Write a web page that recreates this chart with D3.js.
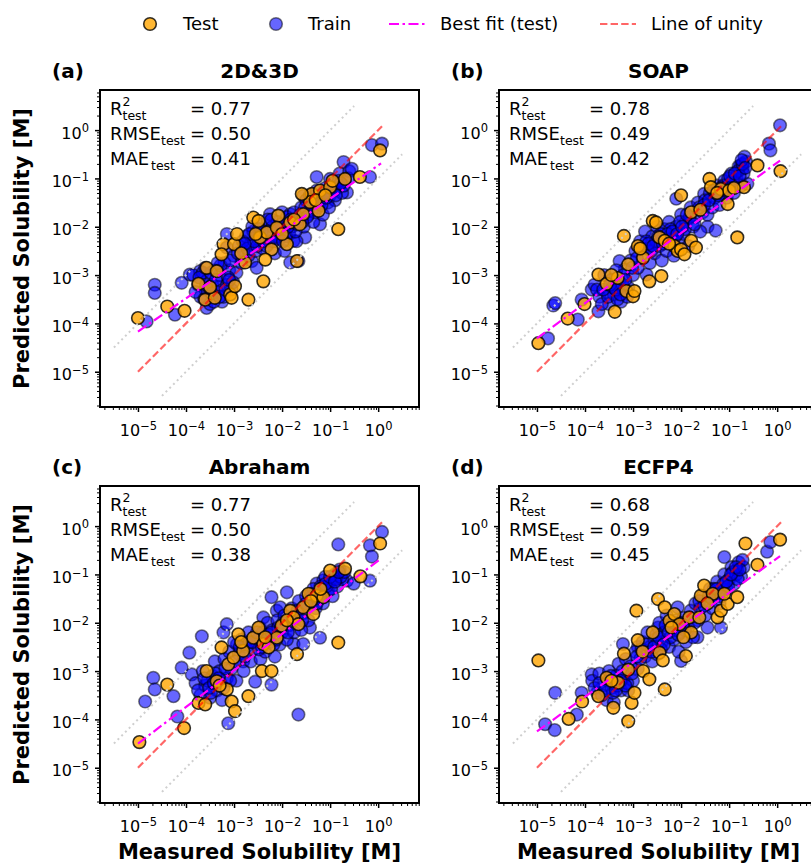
<!DOCTYPE html>
<html>
<head>
<meta charset="utf-8">
<script src="https://cdn.jsdelivr.net/npm/d3@7"></script>
<style>
  body { margin: 0; background: #fff; }
  text { font-family: "DejaVu Sans", sans-serif; fill: #000; }
</style>
</head>
<body>
<svg id="chart" width="811" height="864"></svg>
<script>
// Panel labels and metrics
const panelNames = ['2D&3D', 'SOAP', 'Abraham', 'ECFP4'];
const panelTags = ['(a)', '(b)', '(c)', '(d)'];
const r2Values = ['0.77', '0.78', '0.77', '0.68'];
const rmseValues = ['0.50', '0.49', '0.50', '0.59'];
const maeValues = ['0.41', '0.42', '0.38', '0.45'];

// tick exponents (log10 of solubility)
const tickExps = [-5, -4, -3, -2, -1, 0];

// best fit (test) lines: [log x0, log y0, log x1, log y1]
const fitLines = [
    [-5, -4.17, 0.06, -0.69],
    [-5, -4.31, 0.06, -0.63],
    [-5, -4.50, 0.06, -0.67],
    [-5, -4.25, 0.06, -0.62]
];
const unityRange = [-5, 0.08];
const upperBand = [-5.5, -0.5];   // y = 10x
const lowerBand = [-4.5, 0.5];    // y = x/10

// points, as [log10 measured, log10 predicted]
const testA = [[-5.0,-3.89],[-4.39,-3.65],[-4.03,-3.74],[-3.74,-3.18],[-3.6,-3.51],[-3.4,-3.47],[-3.57,-2.85],[-3.36,-2.92],[-3.22,-2.36],[-3.0,-2.36],[-2.94,-2.15],[-3.26,-2.57],[-3.08,-3.4],[-3.05,-3.47],[-2.98,-3.23],[-2.7,-3.51],[-2.77,-2.74],[-2.6,-1.81],[-2.49,-1.88],[-2.39,-3.13],[-2.46,-2.22],[-2.32,-2.12],[-2.22,-2.47],[-2.35,-2.68],[-2.08,-1.77],[-2.11,-2.02],[-1.9,-2.36],[-1.83,-1.91],[-1.63,-1.95],[-1.69,-2.71],[-1.56,-1.74],[-1.38,-1.32],[-1.42,-1.49],[-1.21,-1.25],[-1.24,-1.67],[-1.0,-1.18],[-0.83,-2.05],[-0.69,-1.01],[-0.38,-0.97],[0.04,-0.42],[-1.59,-1.32],
    [-3.5,-3.25],[-2.85,-2.55],[-2.55,-2.15],[-2.0,-2.15],[-1.75,-1.85],[-1.3,-1.45],[-1.1,-1.35],[-0.95,-1.05]];
const trainA = [[-4.65,-3.2],[-4.65,-3.37],[-4.82,-3.96],[-4.23,-3.82],[-4.09,-3.16],[-3.92,-2.99],[-3.71,-2.92],[-3.57,-3.68],[-3.15,-2.43],[-3.15,-2.15],[-2.63,-2.71],[-2.53,-2.85],[-2.25,-1.74],[-2.0,-1.7],[-1.83,-1.74],[-1.83,-2.74],[-1.66,-2.71],[-1.52,-2.22],[-1.76,-2.29],[-1.21,-1.95],[-1.28,-0.97],[-1.0,-1.01],[-0.72,-0.66],[-0.65,-1.29],[-0.17,-0.97],[-0.13,-0.31],[0.08,-0.28],[-1.56,-1.36],
    [-3.85,-3.0],[-3.75,-3.2],[-3.7,-3.45],[-3.65,-2.95],[-3.6,-3.3],[-3.55,-3.1],[-3.5,-3.6],[-3.45,-3.2],[-3.4,-2.9],[-3.35,-3.35],[-3.3,-3.0],[-3.25,-3.55],[-3.2,-2.75],[-3.15,-3.2],[-3.1,-2.9],[-3.05,-3.3],[-3.0,-2.6],[-2.95,-2.95],[-2.9,-2.4],[-2.85,-2.75],[-2.8,-2.5],[-2.75,-2.2],[-2.7,-2.6],[-2.65,-2.35],[-2.6,-2.1],[-2.55,-2.5],[-2.5,-2.25],[-2.45,-1.95],[-2.4,-2.45],[-2.35,-2.15],[-2.3,-1.85],[-2.25,-2.3],[-2.2,-2.0],[-2.15,-2.55],[-2.1,-1.9],[-2.05,-2.25],[-2.0,-2.05],[-1.95,-2.5],[-1.9,-1.8],[-1.85,-2.15],[-1.8,-2.0],[-1.75,-1.7],[-1.7,-2.3],[-1.65,-1.85],[-1.6,-1.6],[-1.55,-2.0],[-1.5,-1.45],[-1.45,-1.75],[-1.4,-1.55],[-1.35,-1.9],[-1.3,-1.35],[-1.25,-1.6],[-1.2,-1.4],[-1.15,-1.75],[-1.1,-1.2],[-1.05,-1.5],[-1.0,-1.35],[-0.95,-1.1],[-0.9,-1.45],[-0.85,-1.2],[-0.8,-0.9],[-0.75,-1.3],[-0.7,-1.05],[-0.6,-0.85],
    [-3.8,-3.35],[-3.72,-3.05],[-3.62,-3.5],[-3.52,-3.25],[-3.48,-2.95],[-3.42,-3.55],[-3.32,-3.25],[-3.28,-2.8],[-3.22,-3.45],[-3.12,-3.05],[-3.08,-2.7],[-3.02,-3.15],
    [-2.92,-2.55],[-2.82,-2.3],[-2.72,-2.45],[-2.62,-2.0],[-2.52,-2.4],[-2.42,-2.1],[-2.32,-2.4],[-2.22,-1.85],[-2.12,-2.2],[-2.02,-1.95],[-1.92,-2.2],[-1.82,-1.85],[-1.72,-2.1],[-1.62,-1.75],
    [-1.52,-1.6],[-1.42,-1.35],[-1.32,-1.7],[-1.22,-1.5],[-1.12,-1.3],[-1.02,-1.6],[-0.92,-1.25],[-0.82,-1.05],[-0.72,-1.15],[-0.62,-1.0],[-0.55,-0.8],
    [-3.58,-3.2],[-3.46,-3.38],[-3.38,-3.1],[-3.3,-3.45],[-3.18,-3.3],[-3.1,-3.1],[-3.6,-2.85],[-3.34,-2.75],[-2.58,-2.3],[-2.48,-2.05],[-2.38,-2.3],[-2.28,-2.1],[-2.18,-2.3],[-2.08,-2.05],[-1.98,-2.3],[-1.88,-2.0],[-2.68,-2.15],[-2.78,-2.35],[-1.28,-1.25],[-1.18,-1.55],[-1.08,-1.4],[-0.98,-1.2],[-0.88,-1.35],[-0.78,-1.1],[-1.38,-1.45],[-1.48,-1.8],[-1.58,-1.9],[-1.68,-1.95]];

const testB = [[-4.97,-4.41],[-4.36,-3.9],[-4.01,-3.6],[-3.72,-2.99],[-3.55,-3.18],[-3.38,-3.76],[-3.32,-3.06],[-3.19,-2.19],[-3.14,-3.33],[-3.0,-3.44],[-2.97,-3.33],[-3.1,-2.78],[-2.9,-2.4],[-2.79,-2.64],[-2.66,-3.13],[-2.59,-1.88],[-2.52,-1.91],[-2.41,-3.02],[-2.45,-2.22],[-2.34,-2.29],[-2.14,-2.4],[-2.07,-2.5],[-2.0,-2.47],[-1.93,-2.57],[-1.79,-1.7],[-1.79,-2.29],[-1.69,-2.43],[-2.0,-1.35],[-1.41,-1.01],[-1.38,-1.18],[-1.17,-1.22],[-1.0,-1.25],[-1.03,-1.53],[-0.83,-2.22],[-0.69,-1.18],[-0.41,-0.73],[0.07,-0.85],
    [-3.45,-3.0],[-2.85,-2.45],[-2.25,-2.35],[-1.6,-1.65],[-1.25,-1.3],[-0.9,-1.2]];
const trainB = [[-4.66,-3.63],[-4.62,-3.58],[-4.77,-4.31],[-4.15,-3.92],[-4.07,-3.51],[-3.86,-3.3],[-3.72,-3.75],[-3.28,-2.71],[-3.17,-2.88],[-2.72,-2.99],[-2.1,-1.42],[-1.52,-1.32],[-1.45,-2.0],[-1.28,-2.08],[-0.76,-0.73],[-0.72,-0.8],[-0.62,-1.11],[-0.17,-0.28],[-0.14,-0.42],[0.06,0.1],
    [-3.8,-3.2],[-3.7,-3.45],[-3.6,-3.0],[-3.55,-3.35],[-3.5,-3.6],[-3.45,-3.1],[-3.4,-3.4],[-3.35,-2.9],[-3.3,-3.25],[-3.25,-3.55],[-3.2,-3.0],[-3.1,-3.25],[-3.05,-2.7],[-3.0,-3.0],[-2.95,-2.5],[-2.9,-2.85],[-2.85,-2.3],[-2.8,-2.65],[-2.75,-2.1],[-2.7,-2.45],[-2.65,-2.75],[-2.6,-2.2],[-2.55,-2.55],[-2.5,-2.0],[-2.45,-2.4],[-2.4,-2.7],[-2.35,-2.05],[-2.3,-2.5],[-2.25,-1.9],[-2.2,-2.25],[-2.15,-2.6],[-2.1,-2.0],[-2.05,-2.3],[-2.0,-1.75],[-1.95,-2.15],[-1.9,-1.9],[-1.85,-2.4],[-1.8,-1.6],[-1.75,-2.0],[-1.7,-1.8],[-1.65,-1.5],[-1.6,-2.1],[-1.55,-1.7],[-1.5,-1.45],[-1.45,-1.75],[-1.4,-1.3],[-1.35,-1.6],[-1.3,-1.4],[-1.25,-1.15],[-1.2,-1.55],[-1.15,-1.3],[-1.1,-1.05],[-1.05,-1.4],[-1.0,-1.1],[-0.95,-0.9],[-0.9,-1.3],[-0.85,-1.0],[-0.8,-0.75],[-0.75,-1.15],[-0.7,-0.9],[-0.65,-0.65],
    [-3.75,-3.3],[-3.65,-3.6],[-3.52,-3.45],[-3.42,-3.25],[-3.32,-3.5],[-3.22,-3.2],[-3.12,-3.45],[-3.02,-2.85],[-2.92,-2.65],[-2.82,-2.45],[-2.72,-2.3],[-2.62,-2.5],[-2.52,-2.3],[-2.42,-2.15],[-2.32,-2.3],[-2.22,-2.05],[-2.12,-2.2],[-2.02,-1.9],[-1.92,-2.05],[-1.82,-1.8],[-1.72,-1.95],[-1.62,-1.6],[-1.52,-1.55],[-1.42,-1.45],[-1.32,-1.25],[-1.22,-1.35],[-1.12,-1.15],[-1.02,-1.0],[-0.92,-1.05],[-0.82,-0.85],[-0.72,-0.7],[-0.68,-0.55],
    [-3.62,-3.3],[-3.48,-3.2],[-3.36,-3.3],[-3.26,-3.4],[-3.16,-3.1],[-2.68,-2.35],[-2.58,-2.4],[-2.48,-2.2],[-2.38,-2.35],[-2.28,-2.15],[-2.18,-2.1],[-2.08,-2.15],[-1.98,-2.0],[-1.88,-1.75],[-1.28,-1.3],[-1.18,-1.2],[-1.08,-1.25],[-0.98,-0.95],[-0.88,-0.9],[-0.78,-0.95],[-0.74,-0.62],[-0.66,-0.78]];

const testC = [[-4.97,-4.47],[-4.39,-3.28],[-4.04,-4.18],[-3.74,-3.66],[-3.6,-3.69],[-3.57,-3.0],[-3.36,-3.21],[-3.26,-2.51],[-3.15,-3.38],[-3.05,-3.63],[-2.98,-3.83],[-3.12,-2.86],[-3.01,-2.72],[-2.91,-2.24],[-2.81,-2.58],[-2.7,-3.52],[-2.6,-2.31],[-2.49,-2.1],[-2.42,-3.0],[-2.39,-2.44],[-2.28,-2.51],[-2.22,-3.0],[-2.11,-2.31],[-2.01,-2.06],[-1.83,-1.75],[-1.76,-1.89],[-1.69,-2.65],[-1.66,-2.03],[-1.56,-1.68],[-1.45,-1.4],[-1.35,-1.82],[-1.28,-1.44],[-1.14,-1.47],[-1.0,-0.92],[-0.83,-2.41],[-0.69,-0.88],[-0.37,-1.04],[0.04,-0.36],
    [-3.3,-3.3],[-2.85,-2.4],[-2.35,-2.3],[-1.9,-1.95],[-1.4,-1.55],[-1.2,-1.3]];
const trainC = [[-4.85,-3.63],[-4.68,-3.14],[-4.65,-3.38],[-4.26,-3.52],[-4.18,-3.94],[-4.09,-2.93],[-3.93,-2.62],[-3.67,-2.28],[-3.88,-3.07],[-3.22,-2.2],[-3.15,-2.03],[-3.12,-4.08],[-2.94,-2.45],[-2.81,-2.8],[-2.56,-3.22],[-2.46,-2.1],[-2.39,-1.89],[-2.22,-3.28],[-2.22,-1.47],[-2.11,-1.75],[-2.04,-1.68],[-1.9,-1.37],[-1.66,-3.9],[-1.76,-2.44],[-1.56,-2.44],[-1.42,-2.1],[-1.21,-2.31],[-1.28,-1.19],[-1.14,-1.12],[-0.83,-0.38],[-0.65,-1.13],[-0.51,-1.19],[-0.17,-1.13],[-0.17,-0.4],[-0.13,-0.63],[0.08,-0.12],
    [-3.8,-3.25],[-3.7,-3.5],[-3.65,-3.0],[-3.6,-3.3],[-3.5,-3.55],[-3.45,-3.1],[-3.4,-2.8],[-3.35,-3.4],[-3.3,-3.0],[-3.25,-3.6],[-3.2,-2.75],[-3.15,-3.15],[-3.1,-2.6],[-3.05,-2.95],[-3.0,-2.4],[-2.95,-3.2],[-2.9,-2.65],[-2.85,-2.35],[-2.8,-3.0],[-2.75,-2.5],[-2.7,-2.2],[-2.65,-2.8],[-2.6,-2.55],[-2.5,-2.35],[-2.45,-2.75],[-2.4,-2.2],[-2.35,-2.6],[-2.3,-2.0],[-2.25,-2.4],[-2.2,-2.15],[-2.15,-2.7],[-2.1,-1.95],[-2.05,-2.45],[-2.0,-2.2],[-1.95,-1.85],[-1.9,-2.35],[-1.85,-2.05],[-1.8,-1.7],[-1.75,-2.2],[-1.7,-1.9],[-1.65,-1.55],[-1.6,-2.15],[-1.55,-1.8],[-1.5,-1.45],[-1.45,-1.95],[-1.4,-1.6],[-1.35,-1.3],[-1.3,-1.7],[-1.25,-1.5],[-1.2,-1.25],[-1.15,-1.6],[-1.1,-1.05],[-1.05,-1.35],[-1.0,-1.15],[-0.95,-1.45],[-0.9,-1.0],[-0.85,-1.25],[-0.8,-0.9],[-0.75,-1.1],
    [-3.75,-3.4],[-3.55,-3.2],[-3.48,-3.45],[-3.38,-3.05],[-3.28,-3.25],[-3.18,-2.95],[-3.08,-3.2],[-2.98,-2.8],[-2.88,-2.5],[-2.78,-2.7],[-2.68,-2.4],[-2.58,-2.3],[-2.48,-2.55],[-2.38,-2.4],[-2.28,-2.25],[-2.18,-2.45],[-2.08,-2.1],[-1.98,-2.0],[-1.88,-2.2],[-1.78,-1.9],[-1.68,-1.75],[-1.58,-1.95],[-1.48,-1.65],[-1.38,-1.45],[-1.28,-1.6],[-1.18,-1.4],[-1.08,-1.25],[-0.98,-1.3],[-0.88,-1.1],[-0.78,-1.05],[-0.7,-0.95],
    [-3.62,-3.15],[-3.52,-3.35],[-3.42,-3.25],[-3.32,-3.15],[-3.22,-3.35],[-2.62,-2.4],[-2.52,-2.2],[-2.42,-2.5],[-2.32,-2.35],[-2.22,-2.2],[-2.12,-2.35],[-2.02,-2.1],[-1.5,-1.6],[-1.4,-1.4],[-1.3,-1.45],[-1.2,-1.5],[-1.1,-1.2],[-1.0,-1.05],[-0.9,-1.15],[-0.82,-0.95]];

const testD = [[-4.97,-2.78],[-4.34,-3.99],[-4.06,-3.63],[-3.72,-3.52],[-3.55,-3.14],[-3.41,-3.76],[-3.31,-3.24],[-3.19,-2.64],[-3.1,-2.97],[-3.1,-4.04],[-3.03,-3.66],[-2.97,-3.45],[-2.93,-1.75],[-2.9,-2.36],[-2.79,-3.0],[-2.66,-3.17],[-2.59,-2.2],[-2.48,-1.51],[-2.45,-2.62],[-2.38,-2.78],[-2.34,-1.68],[-2.34,-3.38],[-2.24,-1.96],[-2.14,-1.82],[-2.03,-2.03],[-1.9,-2.69],[-1.83,-1.89],[-1.79,-2.2],[-1.62,-1.89],[-1.59,-1.44],[-1.52,-1.23],[-1.34,-1.4],[-1.24,-1.89],[-1.17,-1.75],[-1.03,-1.61],[-0.83,-1.47],[-0.66,-0.36],[-0.41,-0.8],[0.06,-0.28],
    [-3.45,-3.2],[-2.8,-2.6],[-2.2,-2.1],[-1.95,-2.3],[-1.45,-1.6],[-1.1,-1.4]];
const trainD = [[-4.83,-4.1],[-4.63,-4.22],[-4.62,-3.45],[-4.17,-3.9],[-4.07,-3.45],[-3.86,-3.07],[-3.21,-2.44],[-2.9,-2.5],[-2.48,-2.1],[-2.07,-1.68],[-2.0,-2.79],[-1.66,-2.3],[-1.45,-2.1],[-1.17,-2.1],[-1.1,-0.64],[-0.83,-0.9],[-0.21,-0.53],[-0.14,-0.33],
    [-3.85,-3.2],[-3.75,-3.45],[-3.7,-3.05],[-3.6,-3.3],[-3.55,-3.6],[-3.5,-3.0],[-3.45,-3.35],[-3.4,-3.65],[-3.35,-3.1],[-3.3,-2.85],[-3.25,-3.4],[-3.2,-3.15],[-3.15,-2.75],[-3.1,-3.4],[-3.05,-2.9],[-3.0,-3.2],[-2.95,-2.6],[-2.9,-2.95],[-2.85,-2.75],[-2.8,-2.4],[-2.75,-2.7],[-2.7,-2.2],[-2.65,-2.5],[-2.6,-2.8],[-2.55,-2.35],[-2.5,-2.65],[-2.45,-2.0],[-2.4,-2.4],[-2.35,-2.2],[-2.3,-1.85],[-2.25,-2.5],[-2.2,-2.1],[-2.15,-2.35],[-2.1,-1.95],[-2.05,-2.6],[-2.0,-2.2],[-1.95,-1.9],[-1.9,-2.4],[-1.85,-2.1],[-1.8,-1.75],[-1.75,-2.3],[-1.7,-1.6],[-1.65,-1.95],[-1.6,-1.7],[-1.55,-1.45],[-1.5,-1.85],[-1.45,-1.55],[-1.4,-1.3],[-1.35,-1.7],[-1.3,-1.45],[-1.25,-1.15],[-1.2,-1.6],[-1.15,-1.35],[-1.1,-1.0],[-1.05,-1.3],[-1.0,-1.1],[-0.95,-0.85],[-0.9,-1.2],[-0.85,-1.0],[-0.8,-0.75],[-0.75,-1.05],[-0.7,-0.85],
    [-3.8,-3.35],[-3.65,-3.5],[-3.52,-3.2],[-3.42,-3.45],[-3.32,-3.3],[-3.22,-3.0],[-3.12,-3.25],[-3.02,-3.05],[-2.92,-2.7],[-2.82,-2.55],[-2.72,-2.45],[-2.62,-2.6],[-2.52,-2.25],[-2.42,-2.55],[-2.32,-2.05],[-2.22,-2.3],[-2.12,-2.15],[-2.02,-2.0],[-1.92,-2.15],[-1.82,-1.9],[-1.72,-2.0],[-1.62,-1.55],[-1.52,-1.65],[-1.42,-1.45],[-1.32,-1.3],[-1.22,-1.4],[-1.12,-1.2],[-1.02,-1.25],[-0.92,-0.95],[-0.82,-1.1],[-0.72,-0.7],
    [-3.7,-3.25],[-3.58,-3.4],[-3.46,-3.1],[-3.36,-3.4],[-3.26,-3.2],[-3.16,-3.3],[-2.56,-2.5],[-2.46,-2.3],[-2.36,-2.45],[-2.26,-2.2],[-2.16,-2.0],[-2.06,-2.25],[-1.96,-2.05],[-1.36,-1.5],[-1.26,-1.3],[-1.16,-1.45],[-1.06,-1.15],[-0.96,-1.0],[-0.86,-0.85],[-0.78,-0.9]];

const testSets = [testA, testB, testC, testD];
const trainSets = [trainA, trainB, trainC, trainD];

// layout
const W = 319, H = 317;
const origins = [[100, 90], [499, 90], [100, 486], [499, 486]];
const R = 6.3;
const TRAIN_FILL = 'rgb(0,0,255)', TEST_FILL = '#ffa500';
const svg = d3.select('#chart');

const x = d3.scaleLog().domain([Math.pow(10, -5.79), Math.pow(10, 0.85)]).range([0, W]);
const y = d3.scaleLog().domain([Math.pow(10, -5.73), Math.pow(10, 0.83)]).range([H, 0]);
const p10 = e => Math.pow(10, e);

// minor ticks (2..9 per decade) inside the domain
const minorTicks = [];
for (let e = -6; e <= 0; e++) {
    for (let k = 2; k <= 9; k++) {
        const v = k * p10(e);
        if (v >= x.domain()[0] && v <= x.domain()[1]) minorTicks.push(v);
    }
}
const majorTicks = tickExps.map(p10);

function supLabel(sel) {
    sel.each(function(d) {
        const t = d3.select(this);
        const e = Math.round(Math.log10(d));
        t.text(null);
        t.append('tspan').text('10');
        t.append('tspan').attr('dy', '-0.55em').attr('font-size', '11.5px')
            .text(e < 0 ? '\u2212' + Math.abs(e) : String(e));
    });
}

function drawPanel(i) {
    const [ox, oy] = origins[i];
    const g = svg.append('g').attr('transform', `translate(${ox},${oy})`);

    // axes: minor then major ticks
    const styleTicks = (ax, w) => {
        ax.select('.domain').remove();
        ax.selectAll('.tick line').attr('stroke', '#000').attr('stroke-width', w);
    };
    g.append('g').attr('transform', `translate(0,${H})`)
        .call(d3.axisBottom(x).tickValues(minorTicks).tickSize(3).tickFormat(''))
        .call(ax => styleTicks(ax, 1));
    g.append('g')
        .call(d3.axisLeft(y).tickValues(minorTicks.filter(v => v >= y.domain()[0] && v <= y.domain()[1])).tickSize(3).tickFormat(''))
        .call(ax => styleTicks(ax, 1));
    const xa = g.append('g').attr('transform', `translate(0,${H})`)
        .call(d3.axisBottom(x).tickValues(majorTicks).tickSize(5).tickPadding(13))
        .call(ax => styleTicks(ax, 1.5));
    xa.selectAll('.tick text').attr('font-size', '16px').attr('font-family', '"DejaVu Sans", sans-serif').call(supLabel);
    const ya = g.append('g')
        .call(d3.axisLeft(y).tickValues(majorTicks).tickSize(5).tickPadding(6))
        .call(ax => styleTicks(ax, 1.5));
    ya.selectAll('.tick text').attr('font-size', '16px').attr('font-family', '"DejaVu Sans", sans-serif').attr('dy', '0.5em').call(supLabel);

    // points: train under test
    g.append('g').selectAll('circle')
        .data(trainSets[i])
        .enter()
        .append('circle')
        .attr('cx', d => x(p10(d[0])))
        .attr('cy', d => y(p10(d[1])))
        .attr('r', R)
        .attr('fill', TRAIN_FILL)
        .attr('fill-opacity', 0.6)
        .attr('stroke', '#000')
        .attr('stroke-opacity', 0.5)
        .attr('stroke-width', 1.6);
    g.append('g').selectAll('circle')
        .data(testSets[i])
        .enter()
        .append('circle')
        .attr('cx', d => x(p10(d[0])))
        .attr('cy', d => y(p10(d[1])))
        .attr('r', R)
        .attr('fill', TEST_FILL)
        .attr('fill-opacity', 0.8)
        .attr('stroke', '#000')
        .attr('stroke-opacity', 0.8)
        .attr('stroke-width', 1.6);

    // reference lines
    const line = d3.line().x(d => x(p10(d[0]))).y(d => y(p10(d[1])));
    g.append('path')
        .attr('d', line([[upperBand[0], upperBand[0] + 1], [upperBand[1], upperBand[1] + 1]]))
        .attr('stroke', '#cfcfcf').attr('stroke-width', 2).attr('stroke-dasharray', '2,3.3').attr('fill', 'none');
    g.append('path')
        .attr('d', line([[lowerBand[0], lowerBand[0] - 1], [lowerBand[1], lowerBand[1] - 1]]))
        .attr('stroke', '#cfcfcf').attr('stroke-width', 2).attr('stroke-dasharray', '2,3.3').attr('fill', 'none');
    g.append('path')
        .attr('d', line([[unityRange[0], unityRange[0]], [unityRange[1], unityRange[1]]]))
        .attr('stroke', 'red').attr('stroke-opacity', 0.6).attr('stroke-width', 2.2)
        .attr('stroke-dasharray', '7.4,3.2').attr('fill', 'none');
    const f = fitLines[i];
    g.append('path')
        .attr('d', line([[f[0], f[1]], [f[2], f[3]]]))
        .attr('stroke', '#ff00ff').attr('stroke-width', 2.2)
        .attr('stroke-dasharray', '10,3.5,2.5,3.5').attr('fill', 'none');

    // frame
    g.append('rect').attr('width', W).attr('height', H)
        .attr('fill', 'none').attr('stroke', '#000').attr('stroke-width', 2);

    // metrics
    const rows = [['R', r2Values[i], true], ['RMSE', rmseValues[i], false], ['MAE', maeValues[i], false]];
    rows.forEach((r, k) => {
        const by = 25 + k * 25;
        const t = g.append('text').attr('x', 10).attr('y', by).attr('font-size', '18px');
        t.append('tspan').text(r[0]);
        const wMain = { R: 12.5, RMSE: 51, MAE: 41 }[r[0]];
        if (r[2]) {
            g.append('text').attr('x', 10 + wMain).attr('y', by - 9).attr('font-size', '12.5px').text('2');
        }
        g.append('text').attr('x', 10 + wMain).attr('y', by + 5).attr('font-size', '12.5px').text('test');
        g.append('text').attr('x', 90).attr('y', by).attr('font-size', '18px').text('= ' + r[1]);
    });

    // titles
    svg.append('text').attr('x', ox + W / 2).attr('y', oy - 12)
        .attr('text-anchor', 'middle').attr('font-size', '20px').attr('font-weight', 'bold')
        .text(panelNames[i]);
    svg.append('text').attr('x', ox - 48).attr('y', oy - 12)
        .attr('font-size', '20px').attr('font-weight', 'bold')
        .text(panelTags[i]);

    // axis labels
    if (i >= 2) {
        svg.append('text').attr('x', ox + W / 2).attr('y', 858.5)
            .attr('text-anchor', 'middle').attr('font-size', '21px').attr('font-weight', 'bold')
            .text('Measured Solubility [M]');
    }
    if (i % 2 === 0) {
        svg.append('text')
            .attr('transform', `translate(29,${oy + H / 2}) rotate(-90)`)
            .attr('text-anchor', 'middle').attr('font-size', '21px').attr('font-weight', 'bold')
            .text('Predicted Solubility [M]');
    }
}

[0, 1, 2, 3].forEach(drawPanel);

// legend
const lg = svg.append('g').attr('transform', 'translate(0,24)');
lg.append('circle').attr('cx', 150).attr('cy', 0).attr('r', R)
    .attr('fill', TEST_FILL).attr('fill-opacity', 0.8).attr('stroke', '#000').attr('stroke-opacity', 0.8).attr('stroke-width', 1.6);
lg.append('text').attr('x', 183).attr('y', 6).attr('font-size', '18px').text('Test');
lg.append('circle').attr('cx', 276).attr('cy', 0).attr('r', R)
    .attr('fill', TRAIN_FILL).attr('fill-opacity', 0.6).attr('stroke', '#000').attr('stroke-opacity', 0.5).attr('stroke-width', 1.6);
lg.append('text').attr('x', 308).attr('y', 6).attr('font-size', '18px').text('Train');
lg.append('line').attr('x1', 389).attr('x2', 425).attr('y1', 0).attr('y2', 0)
    .attr('stroke', '#ff00ff').attr('stroke-width', 2.2).attr('stroke-dasharray', '10,3.5,2.5,3.5');
lg.append('text').attr('x', 440).attr('y', 6).attr('font-size', '18px').text('Best fit (test)');
lg.append('line').attr('x1', 600).attr('x2', 636).attr('y1', 0).attr('y2', 0)
    .attr('stroke', 'red').attr('stroke-opacity', 0.6).attr('stroke-width', 2.2).attr('stroke-dasharray', '7.4,3.2');
lg.append('text').attr('x', 651).attr('y', 6).attr('font-size', '18px').text('Line of unity');
</script>
</body>
</html>
